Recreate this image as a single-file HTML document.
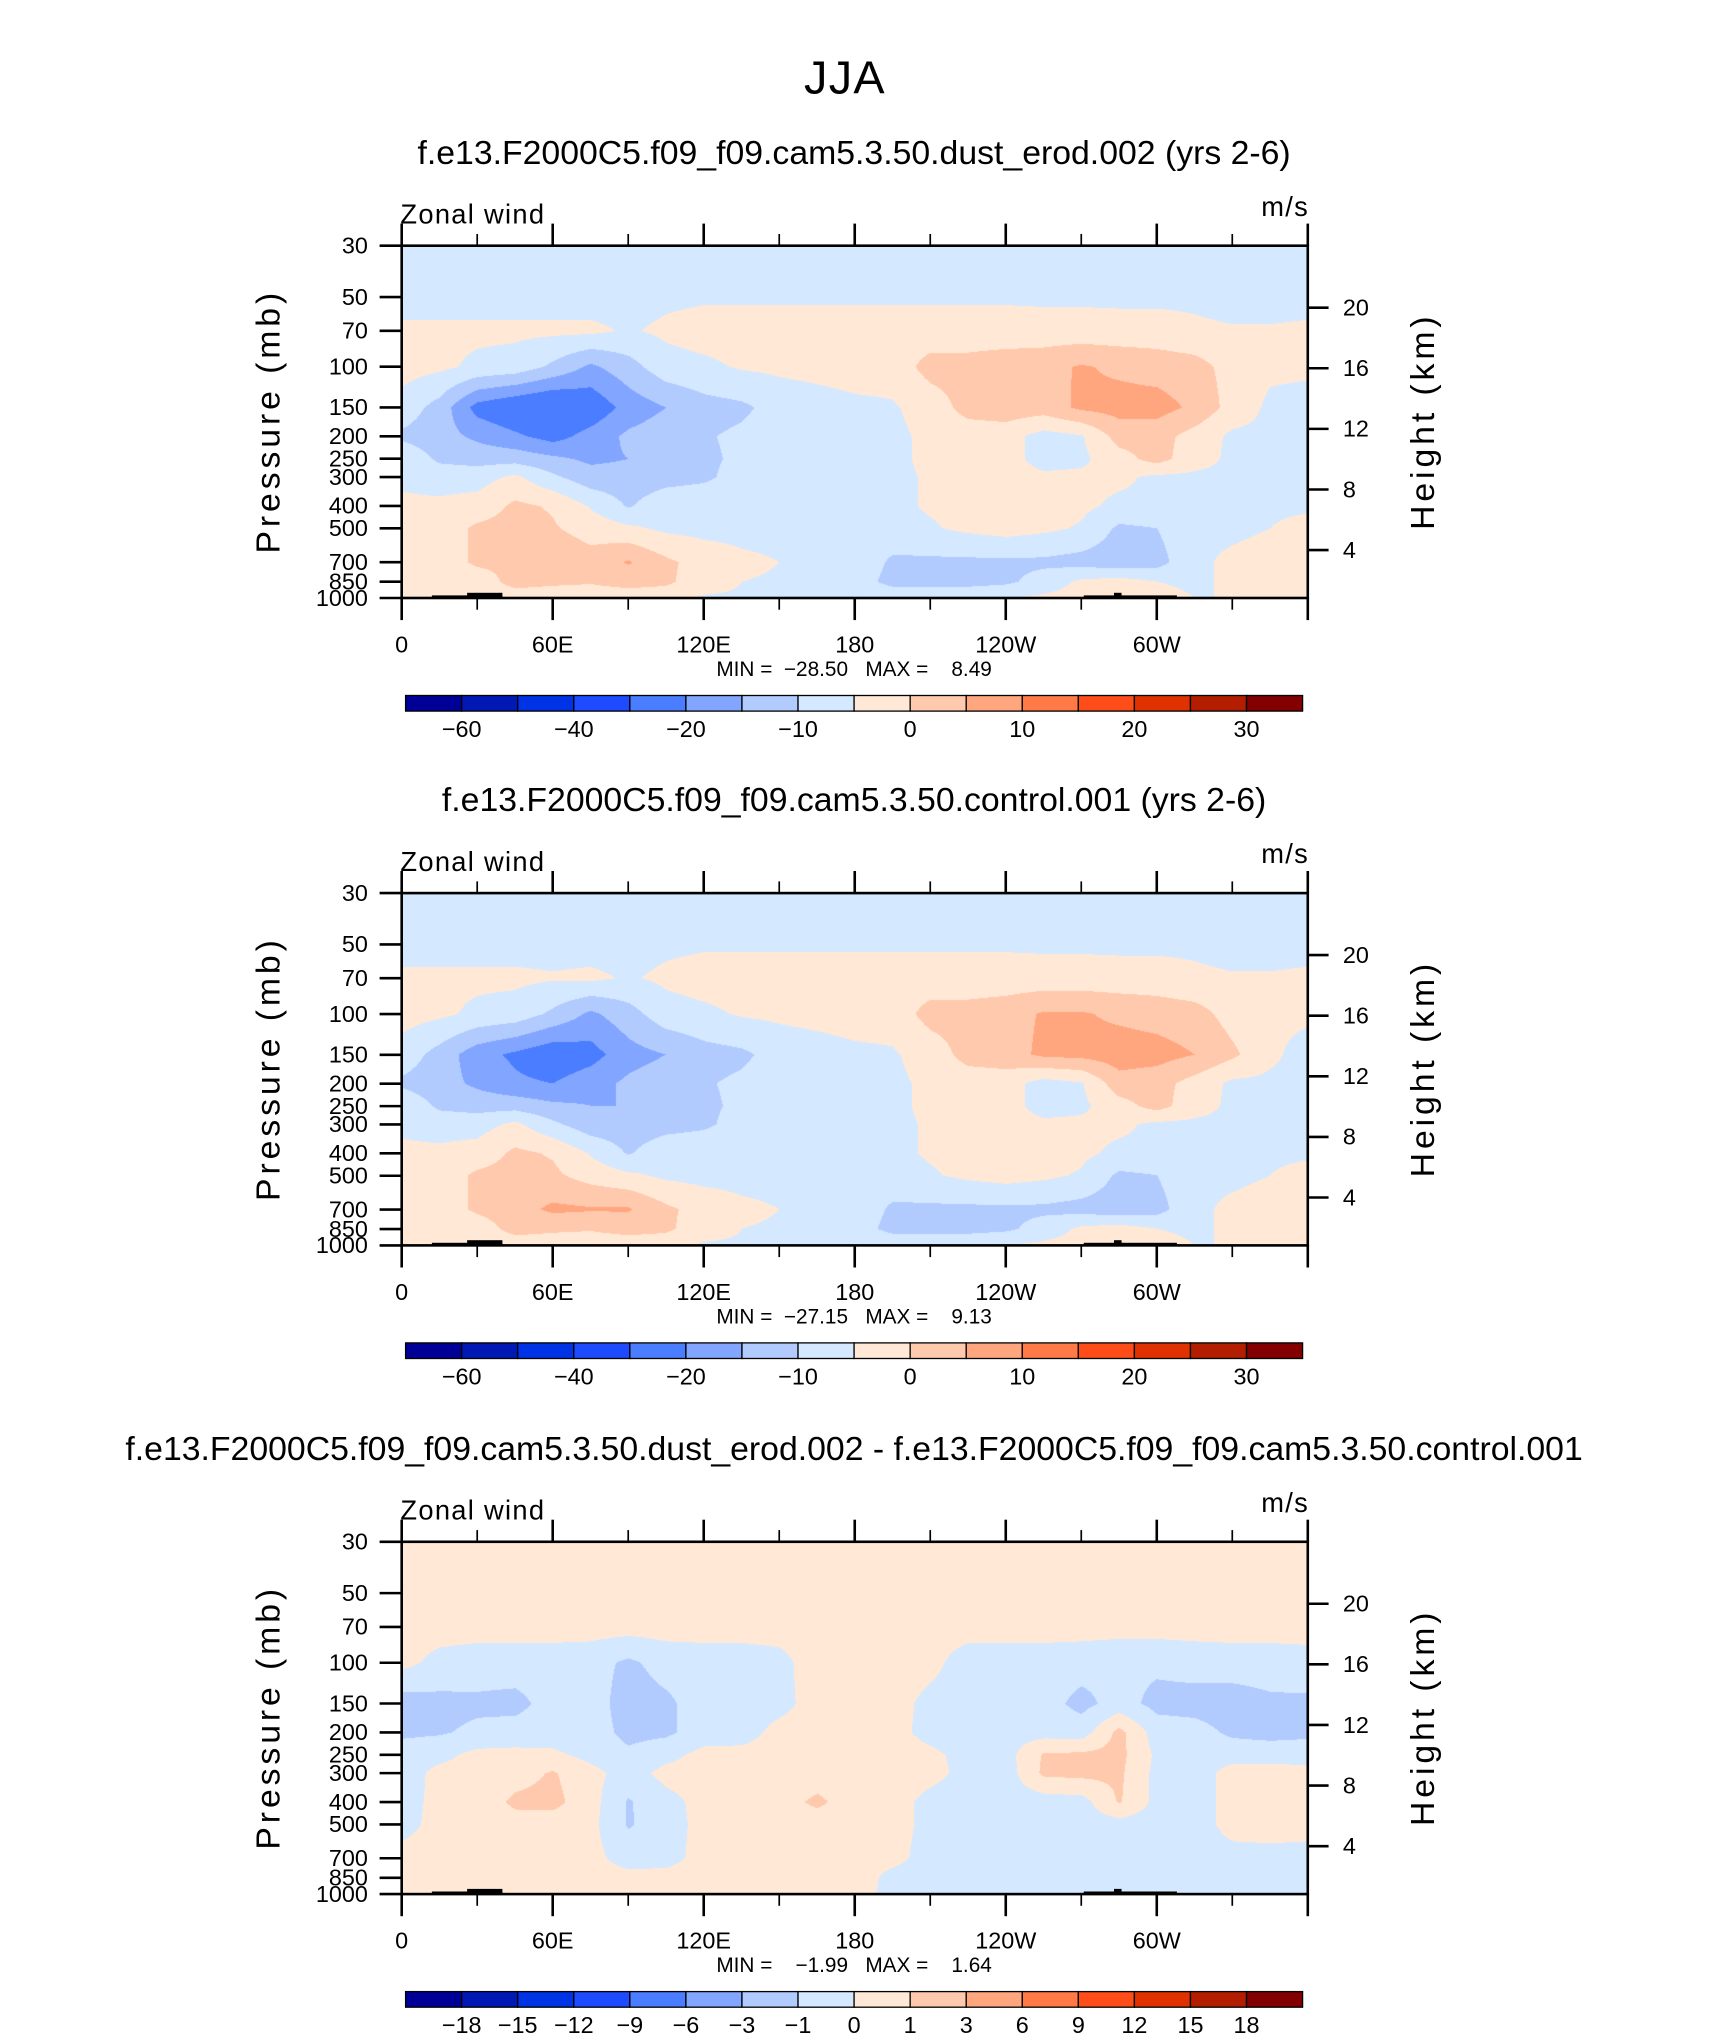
<!DOCTYPE html>
<html><head><meta charset="utf-8"><style>
html,body{margin:0;padding:0;background:#fff;}
#wrap{position:relative;width:1710px;height:2038px;overflow:hidden;background:#fff;}
canvas{position:absolute;}
svg{position:absolute;left:0;top:0;}
text{font-family:"Liberation Sans",sans-serif;fill:#000;}
</style></head><body>
<div id="wrap">
<canvas id="c0"></canvas>
<canvas id="c1"></canvas>
<canvas id="c2"></canvas>
<svg id="svg" width="1710" height="2038" viewBox="0 0 1315.4 1567.7" preserveAspectRatio="none"></svg>
</div>
<script>
const lons=[0,15,30,45,60,75,90,105,120,135,150,165,180,195,210,225,240,255,270,285,300,315,330,345,360];
const pLevels=[30,50,70,100,150,200,250,300,400,500,700,850,1000];
const xTickLabels=["0","60E","120E","180","120W","60W"];
const xTickLons=[0,60,120,180,240,300];
const heightKm=[4,8,12,16,20];
const colors=["#000096","#0019b4","#0032e6","#1e4bff","#4a7dff","#82a5ff","#b2cbff","#d4e8ff","#ffe9d6","#ffc9ad","#ffa67e","#ff7a46","#ff4d1a","#e03200","#b41e00","#820000"];
const levelsA=[-60,-50,-40,-30,-20,-15,-10,-5,0,5,10,15,20,25,30];
const levelsB=[-18,-15,-12,-9,-6,-3,-1,0,1,3,6,9,12,15,18];
const cbLabelsA=["−60","","−40","","−20","","−10","","0","","10","","20","","30"];
const cbLabelsB=["−18","−15","−12","−9","−6","−3","−1","0","1","3","6","9","12","15","18"];
const field1=[
[-8,-8,-8,-8,-8,-8,-8,-8,-8,-8,-8,-8,-8,-8,-8,-8,-8,-8,-8,-8,-8,-8,-8,-8,-8],
[-7,-7,-7,-7,-7,-7,-7,-6,-5.6,-5.6,-5.6,-5.6,-5.6,-5.6,-5.6,-5.6,-5.6,-5.8,-5.8,-6,-6,-6,-7,-7,-7],
[-4,-4,-4,-4,-4,-4,-5.5,-4,-3,-3,-3,-3,-3,-3,-3,-3,-3,-3,-3,-3,-3,-4,-4.5,-4.5,-4],
[-3,-4,-6,-7,-11,-16,-12,-7,-6,-4.5,-4,-3.5,-3,-3,2,2,3,3.5,5.5,4,3,2,-2,-4,-4],
[-7,-12,-22,-25,-27,-24,-18,-15,-12,-11,-8,-7,-6,-5.5,-3,2,3,2.5,6,7,7,4,-2,-6,-7],
[-11,-13,-16,-19,-22,-18,-14,-12,-10.5,-9,-7,-6,-6,-6,-4,-3,-3,-7,-5.5,2,2,-2,-6,-6,-6],
[-6,-11,-12,-12,-14,-16,-15,-12,-11,-9,-7,-6,-6,-6,-4,-3,-3,-7,-6,-2,2,-3,-6,-6,-6],
[-6,-7,-7,-4,-9,-13,-13,-12,-11,-8,-6.5,-6,-6,-6,-4.5,-3,-3,-4,-4,-4,-6,-6,-6,-6,-6],
[-4,-4,-3,1,-0.5,-5.5,-10.5,-6.5,-6,-6,-6,-6,-6,-6,-4.5,-3.5,-3,-3,-4,-6,-6,-6,-6,-6,-6],
[-3,-3,1,2,0.5,-2,-4,-6,-6.5,-6.5,-6.5,-6.5,-6.5,-6.5,-5.5,-4,-3,-4,-5.5,-11,-10,-6,-6,-5,-3],
[-3,-3,1,1,4,2,5.5,1,-2,-4,-5,-6,-6,-11,-11,-11,-11,-11,-12,-13,-12,-6,-4,-3,-3],
[-3,-2,-3,2,1,0.5,2,1,-3,-5,-5.5,-6,-7,-12,-12,-12,-11,-8,-4,-3,-5,-6,-4,-3,-3],
[-4,-3,-3,-3,-3,-3,-3,-3,-5.5,-5.5,-5.5,-5.5,-5.5,-5.5,-5.5,-5.5,-5,-4,-3,1,-3,-5,-5,-5,-5]];
const field2=[
[-8,-8,-8,-8,-8,-8,-8,-8,-8,-8,-8,-8,-8,-8,-8,-8,-8,-8,-8,-8,-8,-8,-8,-8,-8],
[-7,-7,-7,-7,-7,-7,-7,-6,-5.6,-5.6,-5.6,-5.6,-5.6,-5.6,-5.6,-5.6,-5.6,-5.8,-5.8,-6,-6,-6,-7,-7,-7],
[-4,-4,-4,-4,-4.5,-4,-5.5,-4,-3,-3,-3,-3,-3,-3,-3,-3,-3,-3,-3,-3,-3,-4,-4.5,-4.5,-4],
[-3,-4,-6,-7,-11,-16,-12,-7,-6,-4.5,-4,-3.5,-3,-3,2,2,3,5.5,5.5,4,3,2,-2,-4,-4],
[-7,-12,-18,-21,-24,-22,-17,-15,-12,-11,-8,-7,-6,-5.5,-3,2,3,6,6.5,7.5,7,5,1,-4,-7],
[-11,-13,-16,-19,-20,-17,-14,-12,-10.5,-9,-7,-6,-6,-6,-4,-3,-3,-7,-5.5,3,2,-2,-6,-6,-6],
[-6,-11,-12,-12,-14,-15,-15,-12,-11,-9,-7,-6,-6,-6,-4,-3,-3,-7,-6,-2,2,-3,-6,-6,-6],
[-6,-7,-7,-4,-9,-13,-13,-12,-11,-8,-6.5,-6,-6,-6,-4.5,-3,-3,-4,-4,-4,-6,-6,-6,-6,-6],
[-4,-4,-3,1,-0.5,-5.5,-10.5,-6.5,-6,-6,-6,-6,-6,-6,-4.5,-3.5,-3,-3,-4,-6,-6,-6,-6,-6,-6],
[-3,-3,1,2,1,-2,-4,-6,-6.5,-6.5,-6.5,-6.5,-6.5,-6.5,-5.5,-4,-3,-4,-5.5,-11,-10,-6,-6,-5,-3],
[-3,-3,1,3,6,5.5,5.5,1,-2,-4,-5,-6,-6,-11,-11,-11,-11,-11,-12,-13,-12,-6,-4,-3,-3],
[-3,-2,-3,2,1,0.5,2,1,-3,-5,-5.5,-6,-7,-12,-12,-12,-11,-8,-4,-3,-5,-6,-4,-3,-3],
[-4,-3,-3,-3,-3,-3,-3,-3,-5.5,-5.5,-5.5,-5.5,-5.5,-5.5,-5.5,-5.5,-5,-4,-3,1,-3,-5,-5,-5,-5]];
const field3=[
[0.5,0.5,0.5,0.5,0.5,0.5,0.5,0.5,0.5,0.5,0.5,0.5,0.5,0.5,0.5,0.5,0.5,0.5,0.5,0.5,0.5,0.5,0.5,0.5,0.5],
[0.5,0.5,0.5,0.5,0.5,0.5,0.5,0.5,0.5,0.5,0.5,0.5,0.5,0.5,0.5,0.5,0.5,0.5,0.5,0.5,0.5,0.5,0.5,0.5,0.5],
[0.4,0.4,0.4,0.4,0.4,0.4,0.4,0.4,0.4,0.4,0.4,0.4,0.4,0.4,0.4,0.4,0.4,0.4,0.4,0.4,0.4,0.4,0.4,0.4,0.4],
[0.3,-0.3,-0.5,-0.5,-0.5,-0.6,-1.2,-0.6,-0.5,-0.5,-0.3,0.5,0.5,0.5,0.3,-0.5,-0.5,-0.5,-0.6,-0.8,-0.8,-0.6,-0.5,-0.5,-0.4],
[-1.5,-1.3,-1.2,-1.3,-0.6,-0.5,-1.5,-1.2,-0.5,-0.4,-0.3,0.4,0.4,0.4,-0.3,-0.5,-0.5,-0.6,-1.3,-0.6,-1.3,-1.4,-1.5,-1.2,-1.2],
[-1.2,-1.1,-0.8,-0.6,-0.5,-0.5,-1.3,-1.2,-0.5,-0.4,0.3,0.4,0.4,0.3,-0.3,-0.5,-0.4,-0.4,-0.5,1.3,-0.5,-0.6,-1.2,-1.3,-1.2],
[-0.5,-0.3,0.3,0.3,0.2,-0.3,-0.8,-0.3,0.3,0.3,0.4,0.5,0.5,0.4,0.2,-0.3,-0.4,1.1,1.2,1.3,-0.2,-0.4,-0.4,-0.5,-0.5],
[-0.5,0.3,0.4,0.6,1.1,0.3,-0.4,0.3,0.4,0.4,0.4,0.5,0.5,0.5,0.3,-0.3,-0.5,1.2,1.3,1.2,-0.3,-0.5,0.4,0.5,0.4],
[-0.4,0.3,0.4,1.2,1.3,0.4,-1.1,-0.3,0.3,0.4,0.6,1.2,0.5,0.4,-0.3,-0.5,-0.5,-0.5,-0.4,1.1,-0.3,-0.5,0.4,0.6,0.5],
[-0.3,0.3,0.4,0.6,0.5,0.3,-1.1,-0.4,0.3,0.4,0.5,0.5,0.5,0.4,-0.3,-0.5,-0.4,-0.5,-0.5,-0.4,-0.5,-0.5,0.4,0.5,0.4],
[0.3,0.4,0.5,0.5,0.4,0.3,-0.4,-0.3,0.3,0.5,0.5,0.5,0.5,0.3,-0.4,-0.5,-0.5,-0.5,-0.5,-0.5,-0.5,-0.5,-0.4,-0.4,-0.4],
[0.4,0.5,0.5,0.5,0.5,0.4,0.3,0.3,0.4,0.5,0.5,0.5,0.5,-0.3,-0.5,-0.5,-0.5,-0.5,-0.5,-0.5,-0.5,-0.5,-0.5,-0.5,-0.5],
[0.3,0.4,0.4,0.4,0.3,0.3,0.3,0.3,0.3,0.4,0.4,0.4,0.4,-0.3,-0.5,-0.5,-0.5,-0.5,-0.5,-0.5,-0.5,-0.5,-0.5,-0.5,-0.5]];
const titles=["f.e13.F2000C5.f09_f09.cam5.3.50.dust_erod.002 (yrs 2-6)","f.e13.F2000C5.f09_f09.cam5.3.50.control.001 (yrs 2-6)","f.e13.F2000C5.f09_f09.cam5.3.50.dust_erod.002 - f.e13.F2000C5.f09_f09.cam5.3.50.control.001"];
const minmax=["MIN =  −28.50   MAX =    8.49","MIN =  −27.15   MAX =    9.13","MIN =    −1.99   MAX =    1.64"];

const S=1.3, PL=309, PW=697, PH=271, tops=[189,687,1186];
const NS="http://www.w3.org/2000/svg";
const svg=document.getElementById('svg');
function el(tag,attrs,parent){const e=document.createElementNS(NS,tag);for(const k in attrs)e.setAttribute(k,attrs[k]);(parent||svg).appendChild(e);return e;}
function xs(lon){return PL+lon/360*PW;}
function ys(p,top){return top+Math.log(p/30)/Math.log(1000/30)*PH;}
function hexRGB(h){return [parseInt(h.substr(1,2),16),parseInt(h.substr(3,2),16),parseInt(h.substr(5,2),16)];}
const rgb=colors.map(hexRGB);
function colorIdx(v,lev){let i=0;while(i<lev.length&&v>=lev[i])i++;return i;}
const lp=pLevels.map(p=>Math.log(p));
function sample(f,lon,p){
  let j=Math.min(Math.floor(lon/15),lons.length-2);let tx=(lon-lons[j])/15;
  const l=Math.log(p);let i=0;while(i<lp.length-2&&l>lp[i+1])i++;
  let ty=(l-lp[i])/(lp[i+1]-lp[i]);ty=Math.max(0,Math.min(1,ty));
  const a=f[i][j]*(1-tx)+f[i][j+1]*tx,b=f[i+1][j]*(1-tx)+f[i+1][j+1]*tx;
  return a*(1-ty)+b*ty;
}
const fields=[field1,field2,field3];
fields.forEach((f,k)=>{
  const c=document.getElementById('c'+k);
  const L=Math.round(PL*S),T=Math.round(tops[k]*S),W=Math.round((PL+PW)*S)-L,H=Math.round((tops[k]+PH)*S)-T;
  c.width=W;c.height=H;c.style.left=L+'px';c.style.top=T+'px';
  const ctx=c.getContext('2d');const img=ctx.createImageData(W,H);
  const lev=k<2?levelsA:levelsB;
  for(let y=0;y<H;y++){const fr=(y+0.5)/H;const p=30*Math.exp(fr*Math.log(1000/30));
    for(let x=0;x<W;x++){const lon=(x+0.5)/W*360;const v=sample(f,lon,p);const cc=rgb[colorIdx(v,lev)];
      const o=(y*W+x)*4;img.data[o]=cc[0];img.data[o+1]=cc[1];img.data[o+2]=cc[2];img.data[o+3]=255;}}
  ctx.putImageData(img,0,0);
});

let t=el('text',{x:650,y:72,'font-size':36,'text-anchor':'middle',style:'letter-spacing:1px'});
t.textContent="JJA";

tops.forEach((top,k)=>{
  const g=el('g',{});
  let tt=el('text',{x:657,y:top-63,'font-size':26,'text-anchor':'middle'},g);tt.textContent=titles[k];
  
  let zw=el('text',{x:308,y:top-17,'font-size':21,style:'letter-spacing:1px'},g);zw.textContent="Zonal wind";
  
  let ms=el('text',{x:1007,y:top-23,'font-size':21,'text-anchor':'end',style:'letter-spacing:1px'},g);ms.textContent="m/s";
  
  let fr=el('rect',{x:PL,y:top,width:PW,height:PH,fill:'none',stroke:'#000','stroke-width':2},g);
  
  [[12,40,2],[26,40,4],[271,308,2],[283,286,4]].forEach(r=>{
    const m=el('rect',{x:xs(r[0]),y:top+PH-r[2],width:xs(r[1])-xs(r[0]),height:r[2],fill:'#000'},g);
    });
  for(let lon=0;lon<=360;lon+=30){const maj=lon%60===0;const len=maj?17:9;
    let a=el('line',{x1:xs(lon),x2:xs(lon),y1:top+PH,y2:top+PH+len,stroke:'#000','stroke-width':maj?2:1.3},g);
    
    let b=el('line',{x1:xs(lon),x2:xs(lon),y1:top,y2:top-len,stroke:'#000','stroke-width':maj?2:1.3},g);
    }
  xTickLabels.forEach((lb,i)=>{let a=el('text',{x:xs(xTickLons[i]),y:top+313,'font-size':18,'text-anchor':'middle'},g);a.textContent=lb;
    });
  let mm=el('text',{x:657,y:top+331,'font-size':16,'text-anchor':'middle',style:'white-space:pre'},g);mm.textContent=minmax[k];
  
  pLevels.forEach(p=>{const y=ys(p,top);
    let a=el('line',{x1:PL-17,x2:PL,y1:y,y2:y,stroke:'#000','stroke-width':2},g);
    let b=el('text',{x:PL-26,y:y+6,'font-size':18,'text-anchor':'end'},g);b.textContent=p;});
  heightKm.forEach(z=>{const p=1135*Math.exp(-z/6.63);const y=ys(p,top);
    let a=el('line',{x1:PL+PW,x2:PL+PW+16,y1:y,y2:y,stroke:'#000','stroke-width':2},g);
    let b=el('text',{x:PL+PW+27,y:y+6,'font-size':18},g);b.textContent=z;});
  let yt=el('text',{x:0,y:0,'font-size':26,'text-anchor':'middle',transform:`translate(215,${top+135}) rotate(-90)`,style:'letter-spacing:3px'},g);yt.textContent="Pressure (mb)";
  
  let ht=el('text',{x:0,y:0,'font-size':26,'text-anchor':'middle',transform:`translate(1103,${top+135}) rotate(-90)`,style:'letter-spacing:3px'},g);ht.textContent="Height (km)";
  
  const cbL=312,cbW=690,cbT=top+346,cbH=12,bw=cbW/16;
  const lab=k<2?cbLabelsA:cbLabelsB;
  colors.forEach((c,i)=>{let r=el('rect',{x:cbL+i*bw,y:cbT,width:bw,height:cbH,fill:c,stroke:'#000','stroke-width':1},g);
    });
  lab.forEach((s,i)=>{if(!s)return;let a=el('text',{x:cbL+(i+1)*bw,y:top+378,'font-size':18,'text-anchor':'middle'},g);a.textContent=s;
    });
});
</script>
</body></html>
